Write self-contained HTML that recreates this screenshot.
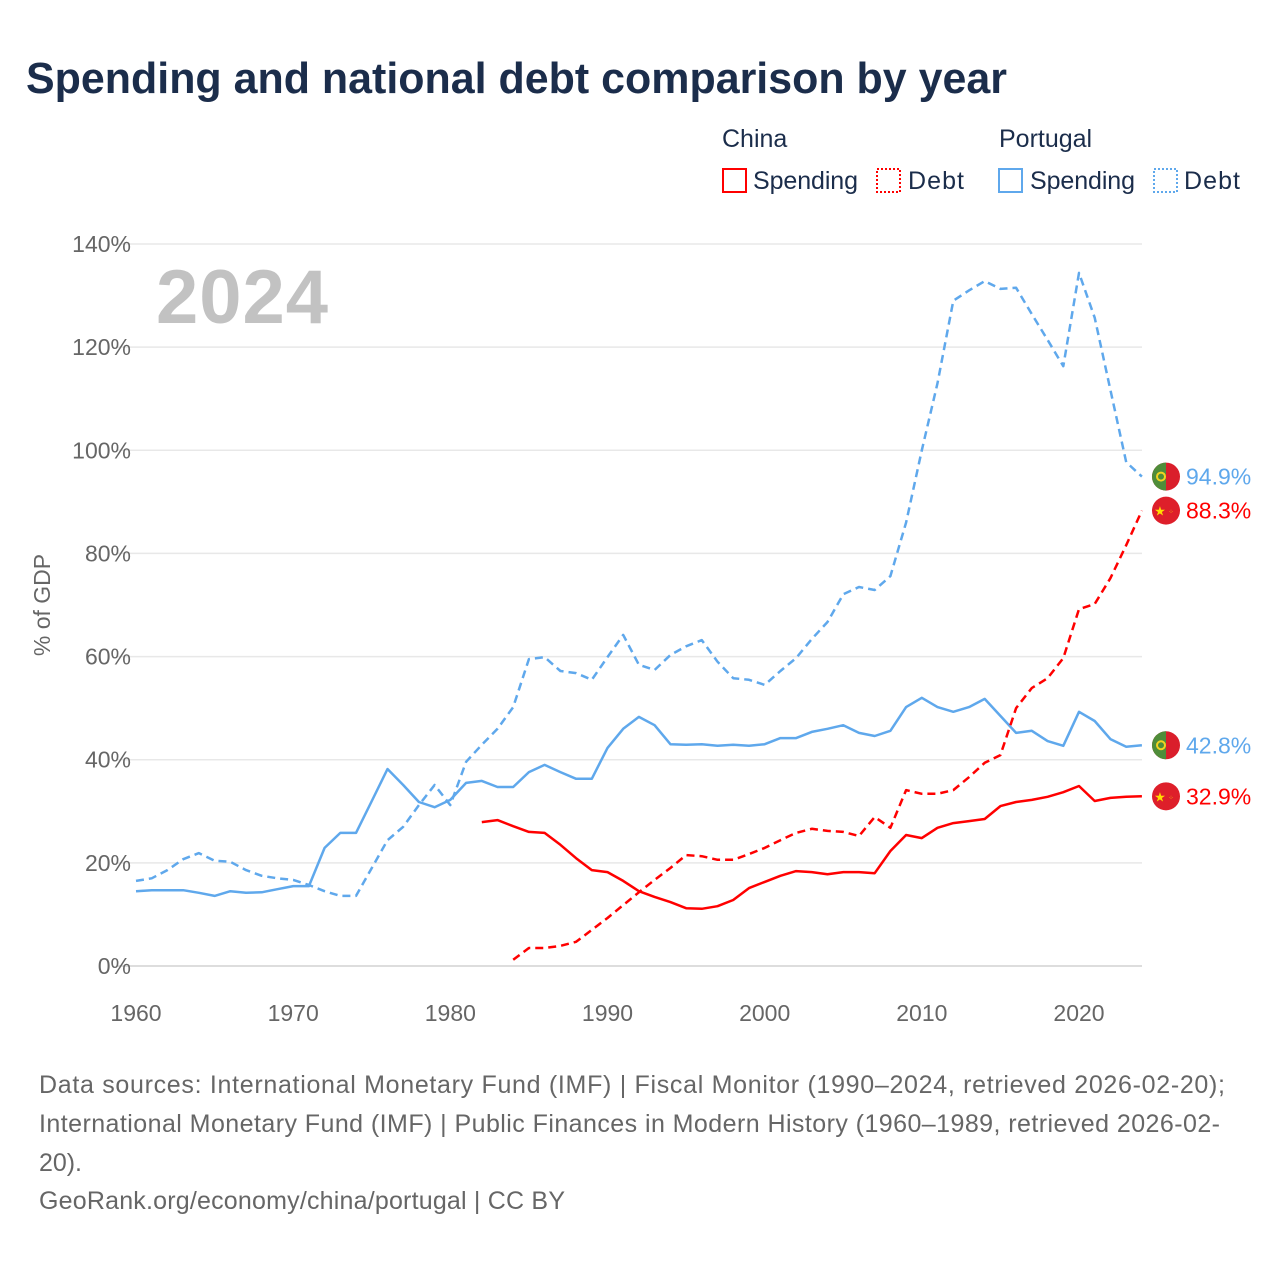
<!DOCTYPE html>
<html><head><meta charset="utf-8">
<style>
body{margin:0;background:#fff;width:1280px;height:1280px;overflow:hidden;font-family:"Liberation Sans",sans-serif;}
svg{display:block}
</style></head>
<body>
<svg id="chart" width="1280" height="1280" xmlns="http://www.w3.org/2000/svg">
<text x="26" y="93" font-size="44" font-weight="bold" fill="#1b2d4b" textLength="981" lengthAdjust="spacingAndGlyphs">Spending and national debt comparison by year</text>
<g font-size="25" fill="#1b2d4b">
<text x="722" y="147">China</text>
<text x="999" y="147">Portugal</text>
<g><rect x="723" y="169" width="23" height="23" fill="none" stroke="#ff0000" stroke-width="2"/><text x="753" y="189" textLength="105">Spending</text></g>
<g><rect x="877" y="169" width="23" height="23" fill="none" stroke="#ff0000" stroke-width="2" stroke-dasharray="2,2"/><text x="908" y="189" textLength="56">Debt</text></g>
<g><rect x="999" y="169" width="23" height="23" fill="none" stroke="#5fa8ec" stroke-width="2"/><text x="1030" y="189" textLength="105">Spending</text></g>
<g><rect x="1154" y="169" width="23" height="23" fill="none" stroke="#5fa8ec" stroke-width="2" stroke-dasharray="2,2"/><text x="1184" y="189" textLength="56">Debt</text></g>
</g>
<text x="156" y="323" font-size="76" font-weight="bold" fill="#c2c2c2" textLength="172">2024</text>
<text transform="translate(50,605) rotate(-90)" text-anchor="middle" font-size="23" fill="#666">% of GDP</text>
<g id="grid"></g><g id="xt"></g><g id="series"></g><g id="ends"></g>
<g font-size="25" fill="#666" lengthAdjust="spacingAndGlyphs">
<text x="39" y="1093" textLength="1186">Data sources: International Monetary Fund (IMF) | Fiscal Monitor (1990–2024, retrieved 2026-02-20);</text>
<text x="39" y="1132" textLength="1181">International Monetary Fund (IMF) | Public Finances in Modern History (1960–1989, retrieved 2026-02-</text>
<text x="39" y="1171" textLength="43">20).</text>
<text x="39" y="1209" textLength="526">GeoRank.org/economy/china/portugal | CC BY</text>
</g>
</svg>
<script>
const yTicks=[0,20,40,60,80,100,120,140];
const xTicks=[1960,1970,1980,1990,2000,2010,2020];
const ptSpendStart=1960;
const ptSpend=[14.5,14.7,14.7,14.7,14.2,13.6,14.5,14.2,14.3,14.9,15.5,15.5,22.9,25.8,25.8,32,38.2,35.1,31.8,30.8,32.2,35.5,35.9,34.7,34.7,37.6,39,37.6,36.3,36.3,42.3,46,48.3,46.7,43,42.9,43,42.7,42.9,42.7,43,44.2,44.2,45.4,46,46.7,45.2,44.6,45.6,50.2,52,50.2,49.3,50.2,51.8,48.5,45.2,45.6,43.6,42.7,49.3,47.5,44,42.5,42.8];
const ptDebtStart=1960;
const ptDebt=[16.5,17,18.6,20.7,21.9,20.4,20.2,18.6,17.5,17,16.7,15.7,14.5,13.6,13.6,19,24.4,27,31.2,35.1,31.2,39.6,42.9,46,50.2,59.5,59.9,57.2,56.8,55.5,59.9,64.2,58.4,57.4,60.3,62,63.2,59,55.8,55.5,54.5,57.2,59.7,63.4,66.7,72.1,73.5,72.9,75.6,86,100,113,129,131,132.8,131.3,131.5,126.4,121.4,116.3,134.4,125.7,111.7,97.7,94.9];
const cnSpendStart=1982;
const cnSpend=[27.9,28.3,27.1,26,25.8,23.5,20.9,18.6,18.2,16.5,14.5,13.4,12.4,11.2,11.1,11.6,12.8,15.1,16.3,17.5,18.4,18.2,17.8,18.2,18.2,18,22.3,25.4,24.8,26.8,27.7,28.1,28.5,31,31.8,32.2,32.8,33.7,34.9,32,32.6,32.8,32.9];
const cnDebtStart=1984;
const cnDebt=[1.2,3.5,3.5,3.9,4.7,7,9.3,11.8,14.3,16.7,19,21.5,21.3,20.6,20.6,21.7,22.9,24.4,25.8,26.6,26.2,26,25.2,28.9,26.8,34.1,33.4,33.4,34.1,36.6,39.4,40.9,50,53.9,55.8,59.7,69.2,70.2,75.2,81.6,88.3];
const NS="http://www.w3.org/2000/svg";
const X=y=>136+(y-1960)*(1079-136)/60;
const Y=v=>966-v*(966-244)/140;
function mk(t,a,p){const e=document.createElementNS(NS,t);for(const k in a)e.setAttribute(k,a[k]);p.appendChild(e);return e;}
const grid=document.getElementById('grid');
yTicks.forEach(v=>{
 const l=mk('line',{x1:118,x2:1142,y1:Y(v),y2:Y(v),stroke:v===0?'#ddd':'#e8e8e8','stroke-width':v===0?2:1.5},grid);
 
 
 const t=mk('text',{x:131,y:Y(v)+8,'text-anchor':'end','font-size':23,fill:'#666'},grid);
 t.textContent=v+'%';
 
 
});
const xt=document.getElementById('xt');
xTicks.forEach(y=>{
 const t=mk('text',{x:X(y),y:1021,'text-anchor':'middle','font-size':23,fill:'#666'},xt);
 t.textContent=y;
 
 
});
const ser=document.getElementById('series');
function line(arr,start,color,dash,name){
 const pts=arr.map((v,i)=>X(start+i).toFixed(1)+','+Y(v).toFixed(1)).join(' ');
 const p=mk('polyline',{points:pts,fill:'none',stroke:color,'stroke-width':2.5,'stroke-linejoin':'round'},ser);
 if(dash)p.setAttribute('stroke-dasharray','8,5');
 
 
}
line(ptDebt,ptDebtStart,'#5fa8ec',true,'portugal-debt-line');
line(ptSpend,ptSpendStart,'#5fa8ec',false,'portugal-spending-line');
line(cnDebt,cnDebtStart,'#ff0000',true,'china-debt-line');
line(cnSpend,cnSpendStart,'#ff0000',false,'china-spending-line');
const ends=document.getElementById('ends');
function endLabel(arr,color,flag,name){
 const v=arr[arr.length-1],cy=Y(v);
 const g=mk('g',{},ends);
 
 
 if(flag==='pt'){
  mk('circle',{cx:1166,cy:cy,r:14,fill:'#da1e2b'},g);
  mk('path',{d:`M1166 ${cy-14} A14 14 0 0 0 1166 ${cy+14} Z`,fill:'#4f8d3a'},g);
  mk('circle',{cx:1161,cy:cy,r:4,fill:'none',stroke:'#f3d321','stroke-width':2},g);
 } else {
  mk('circle',{cx:1166,cy:cy,r:14,fill:'#de1f2a'},g);
  const s=mk('text',{x:1160,y:cy+5,'text-anchor':'middle','font-size':13,fill:'#ffde00'},g);s.textContent='★';
  const s2=mk('text',{x:1171,y:cy+3,'text-anchor':'middle','font-size':6,fill:'#ffde00'},g);s2.textContent='⁘';
 }
 const t=mk('text',{x:1186,y:cy+8,'font-size':23,fill:color},g);
 t.textContent=v.toFixed(1)+'%';
}
endLabel(ptDebt,'#5fa8ec','pt','portugal-debt-end-label');
endLabel(cnDebt,'#ff0000','cn','china-debt-end-label');
endLabel(ptSpend,'#5fa8ec','pt','portugal-spending-end-label');
endLabel(cnSpend,'#ff0000','cn','china-spending-end-label');
</script>
</body></html>
